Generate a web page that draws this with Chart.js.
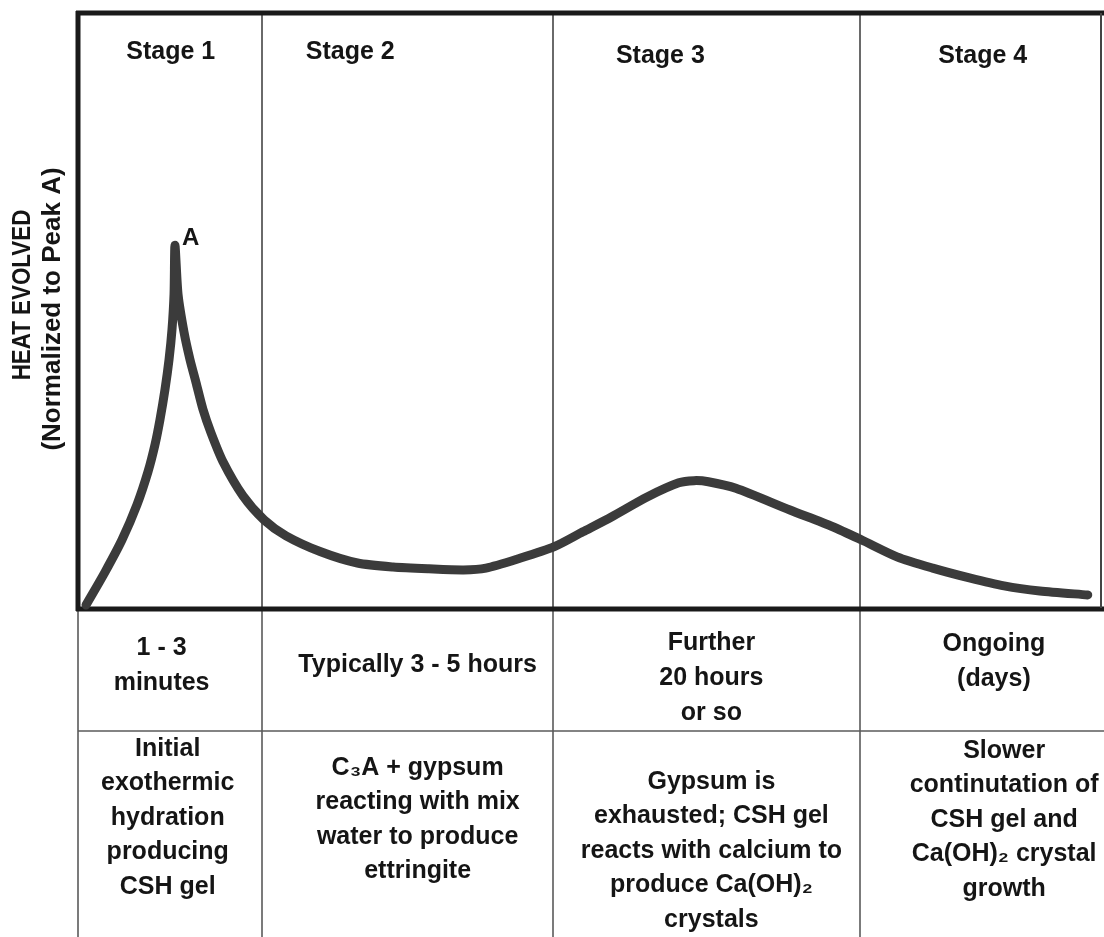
<!DOCTYPE html>
<html>
<head>
<meta charset="utf-8">
<script src="https://cdn.jsdelivr.net/npm/chart.js@4.4.0/dist/chart.umd.min.js"></script>
<style>
  html, body { margin: 0; padding: 0; background: #fff; }
  #wrap { position: relative; width: 1104px; height: 937px; }
</style>
</head>
<body>
<div id="wrap"><canvas id="heatChart"></canvas></div>
<script>
// Heat evolution curve, normalized so that peak A = 1
const heatX = [0.59, 2.45, 4.12, 5.59, 6.67, 7.35, 7.84, 8.33, 8.73, 9.02, 9.22, 9.31,
  9.61, 10.2, 10.78, 11.37, 12.06, 12.84, 14.02, 15.98, 18.04, 20.2, 23.6,
  27.2, 30.7, 34.2, 37.6, 39.8, 42.9, 46.5, 49.3, 52.1, 55.6, 58.7, 60.2, 61.6, 64.3,
  69.6, 73.8, 76.6, 80.1, 83.6, 87.2, 90.6, 94.1, 98.8];
const heatY = [0.008, 0.099, 0.188, 0.285, 0.376, 0.450, 0.519, 0.602, 0.685, 0.768, 0.865, 1.00,
  0.865, 0.760, 0.685, 0.622, 0.547, 0.483, 0.403, 0.309, 0.243, 0.199, 0.155,
  0.124, 0.113, 0.108, 0.105, 0.110, 0.135, 0.169, 0.210, 0.251, 0.306, 0.345, 0.351, 0.348, 0.33,
  0.27, 0.224, 0.188, 0.141, 0.110, 0.083, 0.061, 0.047, 0.036];

// stage boundaries on the time axis
const stageNames = ['Stage 1', 'Stage 2', 'Stage 3', 'Stage 4'];
const stageEdges = [17.8, 46.4, 76.5];

// table under the chart
const durationText = [
  ['1 - 3', 'minutes'],
  ['Typically 3 - 5 hours'],
  ['Further', '20 hours', 'or so'],
  ['Ongoing', '(days)']
];
const processText = [
  ['Initial', 'exothermic', 'hydration', 'producing', 'CSH gel'],
  ['C₃A + gypsum', 'reacting with mix', 'water to produce', 'ettringite'],
  ['Gypsum is', 'exhausted; CSH gel', 'reacts with calcium to', 'produce Ca(OH)₂', 'crystals'],
  ['Slower', 'continutation of', 'CSH gel and', 'Ca(OH)₂ crystal', 'growth']
];
const peakLabel = 'A';
const yTitle = ['HEAT EVOLVED', '(Normalized to Peak A)'];

// layout (x in time-axis units, y in pixels)
const stageLabelX = [8.9, 26.5, 56.9, 88.5];
const stageLabelY = [52, 52, 56, 56];
const durationX = [8.0, 33.1, 61.9, 89.6];
const durationY = [648, 665, 643, 644];
const processX = [8.6, 33.1, 61.9, 90.6];
const processY = [749, 768, 782, 751];

const FONT = '"Liberation Sans", Arial, sans-serif';
const ink = '#151515';

const diagramPlugin = {
  id: 'diagram',
  beforeDatasetsDraw(chart) {
    const ctx = chart.ctx;
    const area = chart.chartArea;
    const xs = chart.scales.x;
    const W = chart.width, H = chart.height;
    ctx.save();

    // stage dividers inside the plot
    ctx.strokeStyle = '#6a6a6a';
    ctx.lineWidth = 2;
    stageEdges.forEach(v => {
      const px = Math.round(xs.getPixelForValue(v));
      ctx.beginPath();
      ctx.moveTo(px, area.top);
      ctx.lineTo(px, area.bottom);
      ctx.stroke();
    });

    // table lines
    ctx.strokeStyle = '#5a5a5a';
    ctx.lineWidth = 1.6;
    [area.left - 2].concat(stageEdges.map(v => xs.getPixelForValue(v))).forEach(px => {
      ctx.beginPath();
      ctx.moveTo(Math.round(px), area.bottom + 3);
      ctx.lineTo(Math.round(px), H);
      ctx.stroke();
    });
    ctx.beginPath();
    ctx.moveTo(area.left - 2, 731);
    ctx.lineTo(W, 731);
    ctx.stroke();

    // frame
    ctx.strokeStyle = '#1a1a1a';
    ctx.lineWidth = 5;
    ctx.beginPath();
    ctx.moveTo(area.left - 4, area.top);
    ctx.lineTo(W, area.top);
    ctx.moveTo(area.left - 2, area.top - 2);
    ctx.lineTo(area.left - 2, area.bottom + 3);
    ctx.moveTo(area.left - 4, area.bottom + 1);
    ctx.lineTo(W, area.bottom + 1);
    ctx.stroke();
    ctx.lineWidth = 2;
    ctx.strokeStyle = '#444';
    ctx.beginPath();
    ctx.moveTo(area.right + 1, area.top);
    ctx.lineTo(area.right + 1, area.bottom);
    ctx.stroke();

    ctx.restore();
  },
  afterDatasetsDraw(chart) {
    const ctx = chart.ctx;
    const xs = chart.scales.x, ys = chart.scales.y;
    ctx.save();
    ctx.fillStyle = ink;
    ctx.textAlign = 'center';
    ctx.textBaseline = 'middle';

    // stage headings
    ctx.font = 'bold 25px ' + FONT;
    stageNames.forEach((s, i) => {
      ctx.fillText(s, xs.getPixelForValue(stageLabelX[i]), stageLabelY[i]);
    });

    // peak label
    const iPeak = heatY.indexOf(Math.max(...heatY));
    ctx.font = 'bold 24px ' + FONT;
    ctx.textAlign = 'left';
    ctx.fillText(peakLabel, xs.getPixelForValue(heatX[iPeak]) + 7, ys.getPixelForValue(heatY[iPeak]) - 7);

    // table text
    ctx.textAlign = 'center';
    ctx.font = 'bold 25px ' + FONT;
    durationText.forEach((lines, i) => {
      lines.forEach((t, j) => ctx.fillText(t, xs.getPixelForValue(durationX[i]), durationY[i] + j * 35));
    });
    processText.forEach((lines, i) => {
      lines.forEach((t, j) => ctx.fillText(t, xs.getPixelForValue(processX[i]), processY[i] + j * 34.5));
    });

    // y axis title (first line is set condensed, as in the original)
    ctx.font = 'bold 26px ' + FONT;
    ctx.save();
    ctx.translate(23, 295);
    ctx.rotate(-Math.PI / 2);
    ctx.scale(0.86, 1);
    ctx.fillText(yTitle[0], 0, 0);
    ctx.restore();
    ctx.translate(53, 309);
    ctx.rotate(-Math.PI / 2);
    ctx.fillText(yTitle[1], 0, 0);
    ctx.restore();
  }
};

new Chart(document.getElementById('heatChart'), {
  type: 'line',
  data: {
    datasets: [{
      data: heatX.map((x, i) => ({ x: x, y: heatY[i] })),
      borderColor: '#3b3b3b',
      borderWidth: 9,
      tension: 0.25,
      borderCapStyle: 'round',
      borderJoinStyle: 'round',
      pointRadius: 0,
      fill: false,
      clip: false
    }]
  },
  options: {
    responsive: true,
    maintainAspectRatio: false,
    animation: false,
    layout: { padding: { left: 80, top: 13, right: 4, bottom: 329 } },
    plugins: { legend: { display: false }, tooltip: { enabled: false } },
    scales: {
      x: { type: 'linear', min: 0, max: 100, display: false },
      y: { min: 0, max: 1.64, display: false }
    }
  },
  plugins: [diagramPlugin]
});
</script>
</body>
</html>
